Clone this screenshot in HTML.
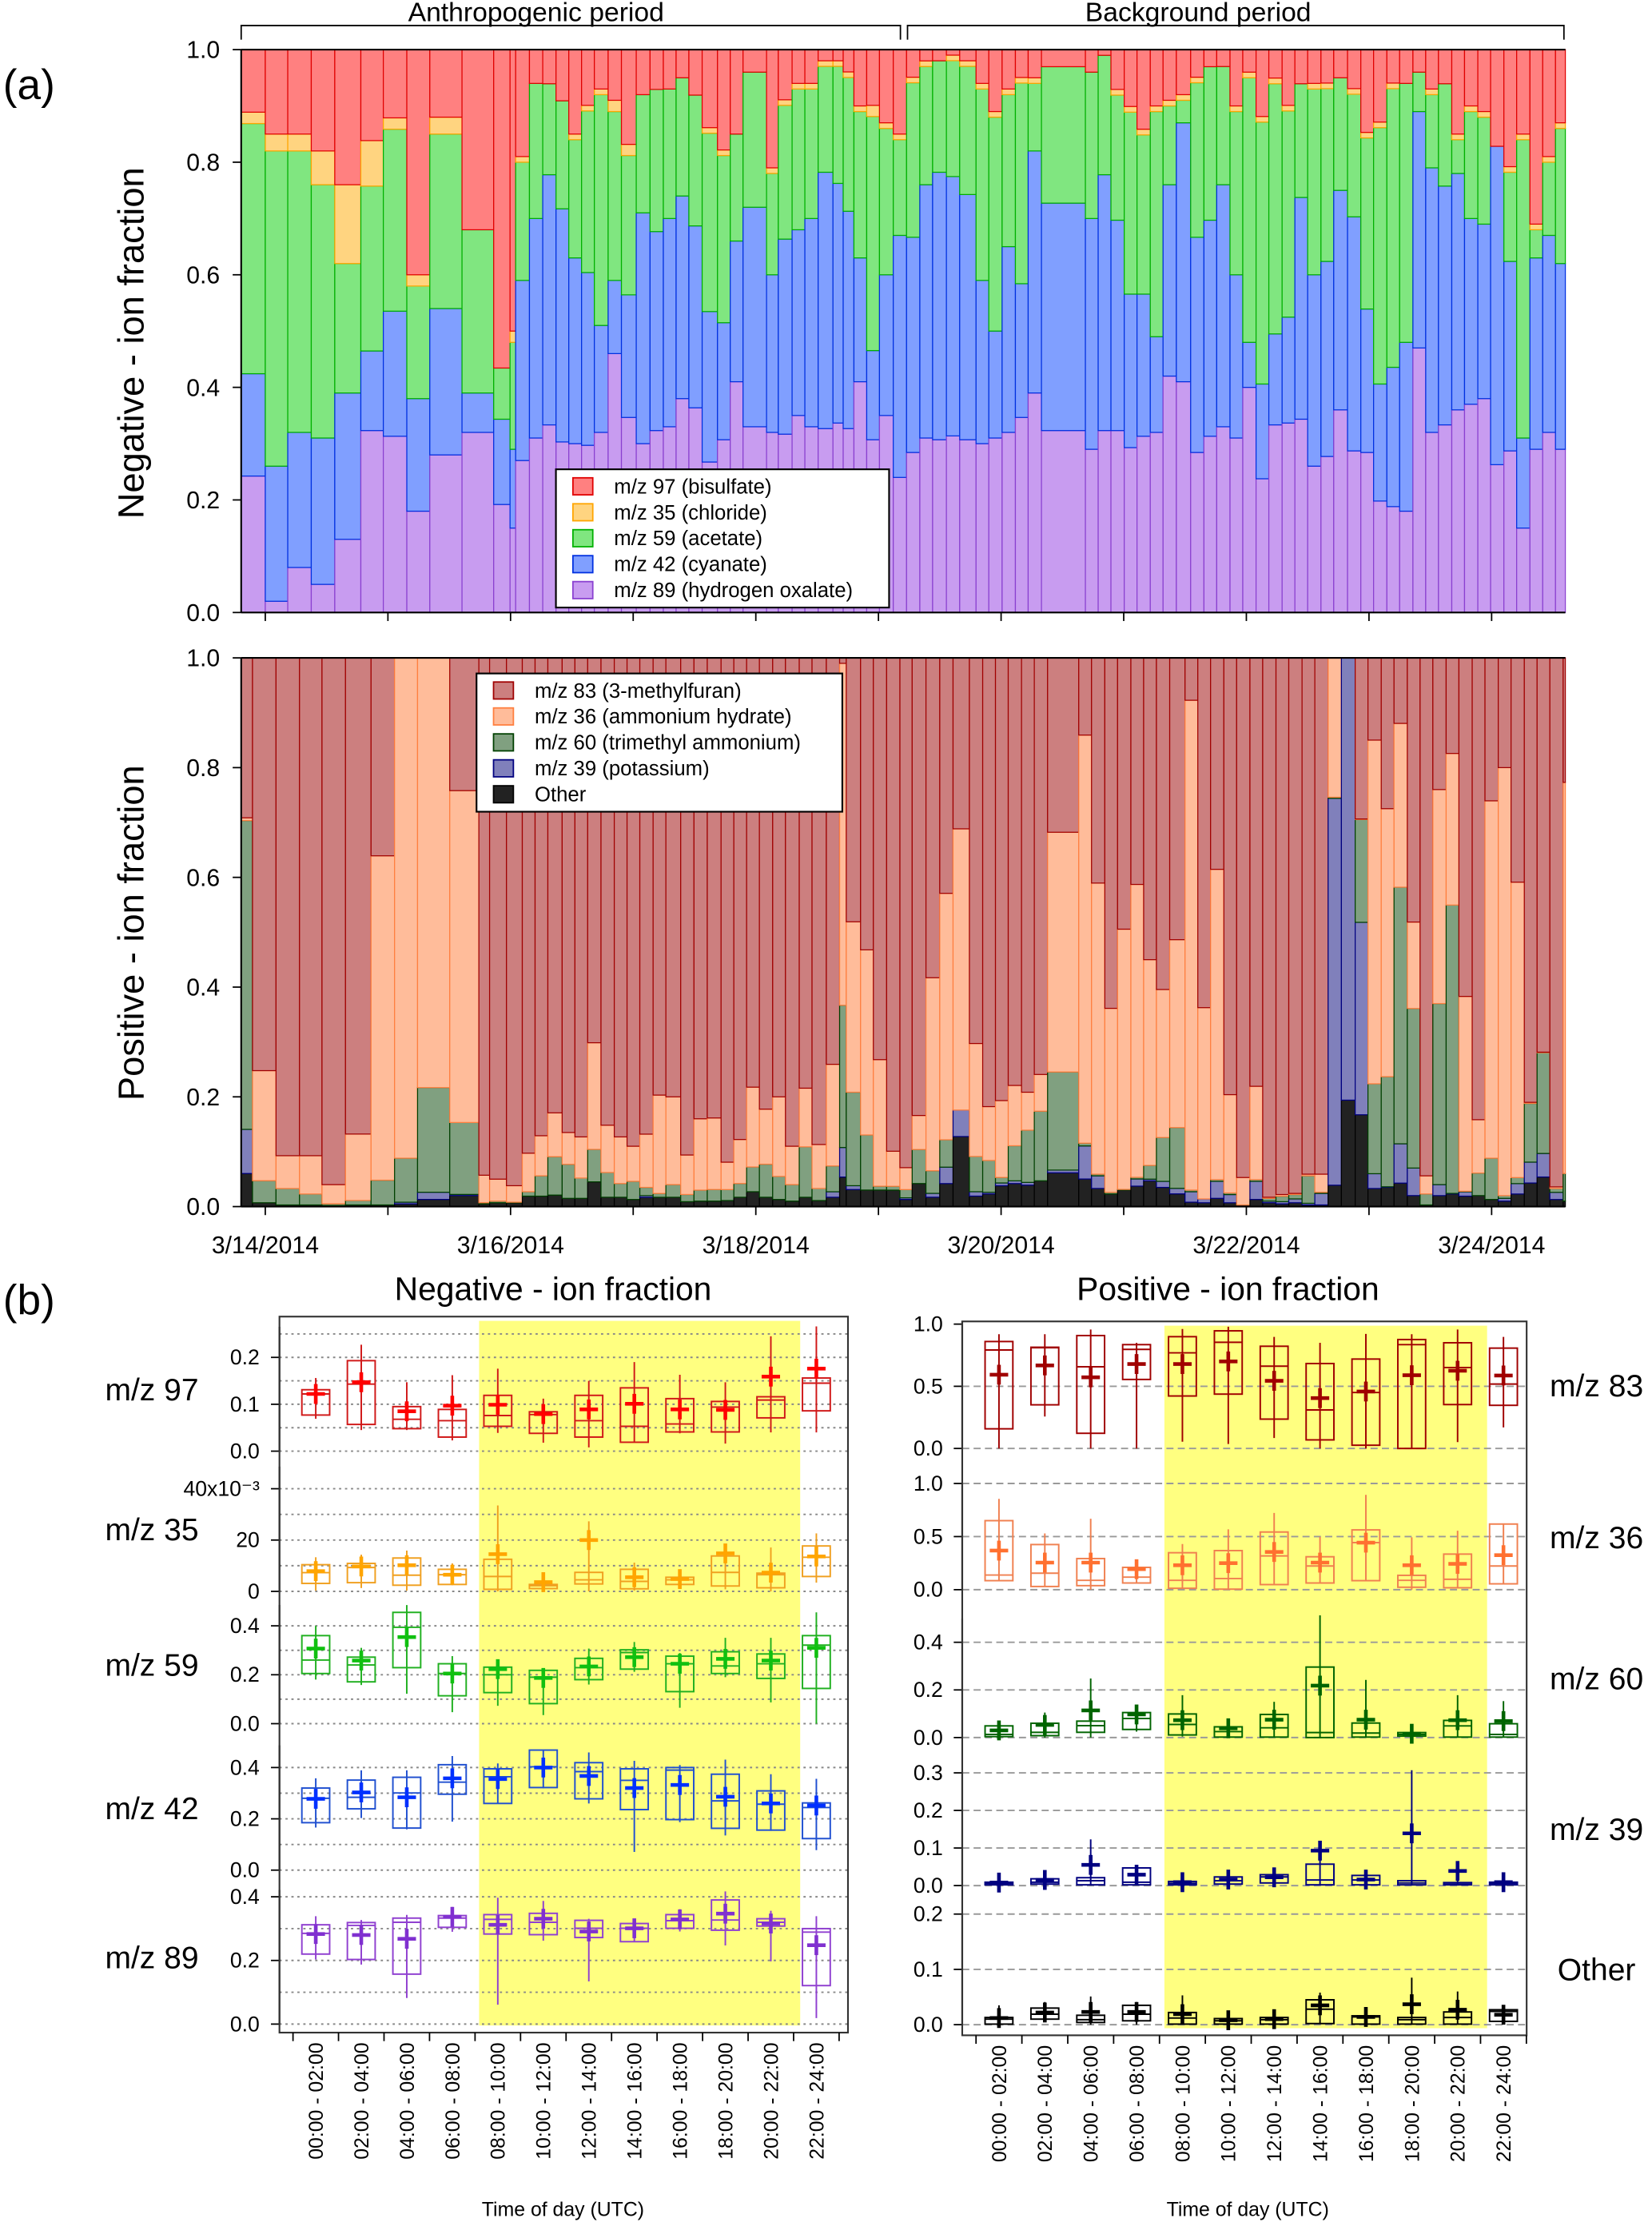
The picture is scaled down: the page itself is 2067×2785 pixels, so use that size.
<!DOCTYPE html>
<html><head><meta charset="utf-8">
<style>
html,body{margin:0;padding:0;background:#fff;}
svg{display:block;font-family:"Liberation Sans",Arial,sans-serif;}
</style></head>
<body>
<svg id="fig" xmlns="http://www.w3.org/2000/svg" width="2067" height="2785" viewBox="0 0 1165 1570">
<rect x="0" y="0" width="1165" height="1570" fill="#fff"/>
<text x="2" y="70" font-size="30">(a)</text>
<text x="2" y="927" font-size="30">(b)</text>
<g stroke="#000" stroke-width="1" fill="none">
<path d="M170,28 V18 H635 V28"/><path d="M640,28 V18 H1103 V28"/>
</g>
<text x="378" y="15" font-size="19" text-anchor="middle">Anthropogenic period</text>
<text x="845" y="15" font-size="19" text-anchor="middle">Background period</text>
<text transform="translate(101,242) rotate(-90)" font-size="25.5" text-anchor="middle">Negative - ion fraction</text>
<text transform="translate(101,658) rotate(-90)" font-size="25.5" text-anchor="middle">Positive - ion fraction</text>
<g id="gA"></g>
<g id="gB"></g>
<text x="390" y="917" font-size="23" text-anchor="middle">Negative - ion fraction</text>
<text x="866" y="917" font-size="23" text-anchor="middle">Positive - ion fraction</text>
<text x="397" y="1563" font-size="14" text-anchor="middle">Time of day (UTC)</text>
<text x="880" y="1563" font-size="14" text-anchor="middle">Time of day (UTC)</text>
</svg>
<script>
// ---------- Panel (a) data ----------
const negEdges=[-4.7,0,4.4,9.0,13.6,18.7,23.1,27.7,32.2,38.5,44.7,47.9,49.0,51.7,54.3,56.9,59.4,61.9,64.4,67.1,69.7,72.6,75.3,77.9,80.4,82.9,85.5,88.5,91.0,93.5,98.1,100.4,103.1,105.6,108.2,111.1,113.1,115.2,117.7,120.2,122.9,125.5,128.1,130.6,133.3,135.9,139.1,141.6,144.2,146.8,149.3,151.9,160.5,163.0,165.5,168.1,170.6,173.2,175.7,178.3,181.1,183.7,186.2,188.8,191.3,193.9,196.4,199.0,201.5,204.0,206.6,209.1,211.8,214.4,216.9,219.5,222.0,224.6,227.1,229.6,232.2,234.7,237.3,239.8,242.4,244.9,247.5,250.0,252.5,255.3];
const oxalate=[.24,.02,.08,.05,.13,.32,.31,.18,.28,.32,.19,.15,.27,.31,.33,.30,.30,.30,.32,.46,.35,.30,.32,.33,.38,.36,.27,.31,.41,.33,.32,.32,.35,.33,.33,.34,.33,.41,.31,.35,.24,.29,.31,.31,.32,.31,.30,.31,.32,.35,.39,.32,.29,.32,.32,.29,.31,.32,.42,.41,.29,.31,.33,.31,.40,.24,.33,.34,.34,.26,.28,.36,.29,.29,.20,.19,.18,.47,.32,.33,.36,.37,.38,.26,.29,.15,.29,.32,.29];
const cyanate=[.18,.24,.24,.26,.26,.14,.22,.20,.26,.07,.15,.14,.32,.39,.44,.41,.33,.31,.19,.13,.22,.41,.35,.37,.36,.32,.27,.21,.25,.39,.28,.35,.33,.37,.46,.43,.39,.22,.16,.25,.43,.39,.45,.48,.47,.44,.29,.19,.33,.24,.43,.40,.41,.45,.37,.27,.25,.17,.34,.46,.39,.38,.43,.29,.08,.17,.16,.19,.39,.34,.35,.39,.42,.26,.21,.25,.30,.42,.47,.42,.42,.33,.31,.56,.34,.16,.34,.35,.33];
const acetate=[.44,.56,.50,.45,.23,.29,.32,.20,.31,.29,.09,.19,.21,.24,.16,.19,.21,.29,.41,.30,.25,.21,.25,.23,.21,.23,.32,.30,.19,.24,.18,.24,.25,.23,.19,.21,.24,.26,.42,.26,.17,.28,.21,.20,.21,.23,.34,.38,.27,.36,.12,.24,.26,.21,.22,.32,.28,.40,.14,.04,.28,.27,.21,.29,.47,.47,.44,.37,.20,.33,.31,.20,.22,.31,.46,.50,.46,.07,.13,.18,.06,.19,.19,.00,.16,.53,.05,.13,.24];
const chloride=[.02,.03,.03,.06,.14,.08,.02,.02,.03,0,0,.02,.01,0,0,0,.01,.01,.01,.02,.02,0,0,0,0,0,.01,.01,0,0,.01,.01,.01,.01,.01,.01,.01,.01,.02,.01,.01,.01,.01,0,.01,.01,.01,.01,.01,.01,.01,0,0,0,.01,.01,.01,.01,.01,.01,.01,0,0,.01,.01,.01,.01,.01,0,.01,.01,0,.01,.01,.01,.01,0,0,.01,0,.01,.01,.01,0,.01,.01,.01,.01,.01];
const bisulfate=[.11,.15,.15,.18,.24,.16,.12,.40,.12,.32,.56,.50,.19,.06,.06,.09,.15,.10,.07,.09,.17,.08,.07,.07,.05,.08,.14,.18,.15,.04,.21,.09,.06,.06,.02,.02,.04,.10,.10,.13,.15,.05,.02,.02,.01,.02,.06,.11,.07,.05,.05,.03,.04,.01,.07,.10,.14,.10,.09,.08,.05,.03,.03,.10,.04,.12,.05,.10,.06,.06,.06,.05,.07,.15,.13,.06,.06,.04,.07,.06,.15,.10,.11,.17,.21,.15,.31,.19,.13];

const posEdges=[-4.7,-2.5,2.1,6.7,11.1,15.7,20.7,25.3,29.8,36.1,41.8,43.9,47.2,50.3,52.8,55.3,58.1,60.6,63.1,65.7,68.3,70.8,73.3,75.9,78.4,81.3,83.9,86.5,89.2,91.7,94.2,96.7,99.3,101.8,104.5,107.0,109.8,112.4,113.7,116.5,119.0,121.6,124.2,126.6,129.3,132.0,134.6,137.8,140.4,142.9,145.4,148.0,150.5,153.1,159.2,161.7,164.3,166.8,169.4,171.9,174.4,177.0,180.0,182.5,185.0,187.6,190.1,192.7,195.2,197.8,200.3,202.9,205.4,208.0,210.6,213.3,215.8,218.4,220.9,223.5,226.0,228.5,231.1,233.6,236.2,238.7,241.3,243.8,246.4,248.9,251.4,254.0,255.3];
const otherIon=[.06,.007,.003,.003,.002,.003,.003,.005,.013,.02,.005,.007,.007,.019,.019,.021,.015,.015,.045,.017,.017,.013,.017,.017,.017,.009,.01,.01,.011,.017,.027,.017,.013,.01,.017,.011,.017,.054,.031,.03,.03,.03,.013,.042,.017,.042,.127,.019,.023,.038,.042,.039,.047,.062,.05,.033,.023,.03,.037,.047,.035,.023,.008,.007,.015,.007,.003,.013,.007,.005,.007,.003,.003,.039,.194,.167,.033,.035,.043,.02,.003,.02,.023,.019,.02,.013,.01,.023,.043,.054,.013,.01];
const potassium=[.08,0,0,0,0,0,0,.003,.013,.002,0,0,0,0,0,0,0,0,0,0,0,0,.003,0,0,0,0,0,0,0,0,0,0,0,0,0,.01,.054,.007,0,0,0,.003,0,.007,.03,.048,.008,.003,.005,.005,.005,0,.005,.06,.023,0,0,.013,.003,.011,.01,.019,.007,.031,.015,0,.033,.003,.004,.007,.003,.021,.705,.806,.35,.027,.001,.072,.05,0,.02,.001,.008,0,0,.005,.019,.038,.043,.013,0];
const trimethyl=[.56,.04,.03,.02,.003,.008,.045,.08,.19,.13,.002,.003,.001,.008,.037,.07,.062,.037,.059,.045,.025,.033,.015,.007,.023,.013,.02,.021,.02,.025,.045,.06,.042,.03,.092,.022,.047,.26,.17,.10,.007,.007,.015,.062,.041,.05,0,.064,.058,.01,.064,.095,.127,.18,.005,.003,.003,.001,.003,.025,.08,.11,.003,0,.003,.003,0,.003,.005,.01,.008,.05,.002,.002,0,.187,.164,.20,.47,.29,.02,.33,.525,.001,.041,.075,.005,.011,.107,.184,.007,.05];
const ammonium=[.005,.20,.06,.07,.035,.12,.59,.91,.78,.60,.05,.04,.03,.07,.073,.08,.058,.075,.194,.086,.085,.064,.097,.18,.16,.072,.13,.13,.05,.08,.145,.10,.145,.07,.107,.08,.185,.625,.31,.336,.23,.064,.04,.062,.35,.45,.51,.205,.098,.14,.11,.069,.067,.44,.74,.53,.336,.47,.53,.375,.27,.34,.89,.35,.565,.18,.05,.17,.002,.003,.002,.003,.033,.254,0,.001,.627,.487,.30,.157,.033,.39,.276,.355,.097,.65,.78,.54,.002,.001,.003,.71];
const methylfuran=[.29,.75,.91,.91,.96,.86,.36,0,0,.24,.94,.95,.96,.90,.87,.83,.865,.873,.70,.85,.873,.89,.868,.80,.80,.906,.84,.836,.92,.876,.78,.82,.80,.89,.785,.886,.74,.01,.48,.53,.73,.90,.93,.834,.58,.43,.31,.70,.817,.806,.78,.79,.76,.32,.14,.41,.64,.49,.41,.55,.605,.51,.077,.64,.385,.80,.947,.78,.983,.98,.976,.94,.94,0,0,.293,.15,.274,.12,.48,.943,.24,.174,.617,.84,.26,.20,.41,.81,.72,.967,.226];

const dateTicks=[0,24,48,72,96,120,144,168,192,216,240];
const dateLabels=["3/14/2014","","3/16/2014","","3/18/2014","","3/20/2014","","3/22/2014","","3/24/2014"];
const fracTicks=[0,0.2,0.4,0.6,0.8,1.0];

// ---------- Panel (b) data ----------
const timeLabels=["00:00 - 02:00","02:00 - 04:00","04:00 - 06:00","06:00 - 08:00","08:00 - 10:00","10:00 - 12:00","12:00 - 14:00","14:00 - 16:00","16:00 - 18:00","18:00 - 20:00","20:00 - 22:00","22:00 - 24:00"];
const mz97={hi:[.131,.193,.095,.089,.119,.084,.119,.135,.112,.106,.116,.156],lo:[.077,.057,.048,.030,.053,.038,.030,.019,.041,.041,.071,.086],med:[.122,.143,.068,.065,.076,.078,.065,.053,.058,.094,.109,.145],mean:[.122,.147,.085,.097,.099,.079,.089,.101,.089,.088,.159,.176],whi:[.156,.227,.147,.162,.176,.112,.150,.190,.163,.147,.245,.266],wlo:[.069,.045,.045,.023,.039,.018,.008,.019,.038,.016,.040,.040]};
const mz35={hi:[.0104,.0109,.013,.0086,.0125,.0027,.0074,.0086,.0055,.0138,.0071,.0177],lo:[.0031,.0034,.0024,.0027,.0008,.0011,.0029,.001,.0027,.0021,.0014,.0058],med:[.0073,.0093,.0063,.0065,.0058,.0022,.0045,.0039,.0045,.0074,.0065,.0133],mean:[.0079,.0097,.0102,.0065,.0145,.0036,.020,.0055,.0048,.0148,.0073,.0136],whi:[.0133,.0143,.0159,.0109,.0335,.0065,.0273,.0112,.0078,.0174,.0171,.0226],wlo:[.0003,.0013,.0003,.0024,0,0,0,.0003,.0019,.0008,0,.0034]};
const mz59={hi:[.36,.272,.455,.245,.231,.218,.267,.302,.276,.294,.285,.36],lo:[.205,.171,.229,.114,.127,.082,.18,.223,.131,.205,.185,.144],med:[.26,.24,.394,.205,.20,.19,.229,.291,.245,.236,.245,.321],mean:[.307,.258,.354,.205,.223,.187,.234,.272,.245,.265,.258,.31],whi:[.40,.31,.485,.276,.253,.223,.307,.334,.289,.351,.351,.455],wlo:[.18,.158,.122,.047,.073,.035,.16,.212,.065,.19,.087,0]};
const mz42={hi:[.32,.351,.362,.411,.395,.468,.419,.395,.40,.374,.309,.262],lo:[.185,.239,.164,.296,.26,.322,.278,.236,.197,.163,.156,.123],med:[.28,.284,.301,.343,.364,.403,.384,.35,.39,.27,.257,.244],mean:[.278,.303,.284,.358,.355,.40,.367,.32,.332,.286,.26,.252],whi:[.358,.389,.389,.445,.416,.47,.459,.426,.41,.431,.374,.356],wlo:[.166,.203,.159,.189,.26,.319,.26,.071,.187,.135,.153,.078]};
const mz89={hi:[.312,.319,.333,.341,.344,.348,.326,.316,.344,.39,.331,.30],lo:[.22,.203,.157,.304,.283,.281,.272,.259,.301,.295,.308,.121],med:[.285,.31,.32,.333,.329,.32,.301,.301,.325,.327,.32,.289],mean:[.283,.28,.268,.337,.312,.331,.291,.301,.329,.347,.316,.248],whi:[.339,.327,.343,.368,.397,.387,.331,.329,.361,.417,.356,.339],wlo:[.203,.187,.082,.29,.061,.262,.134,.258,.291,.247,.197,.019]};
const mz83={hi:[.86,.814,.908,.835,.899,.946,.822,.683,.719,.876,.85,.807],lo:[.158,.351,.122,.555,.422,.437,.236,.069,.026,0,.353,.347],med:[.792,.81,.657,.797,.769,.854,.662,.31,.45,.835,.651,.518],mean:[.593,.668,.572,.679,.679,.70,.544,.405,.458,.589,.625,.587],whi:[.919,.919,.957,.85,.961,.979,.897,.85,.921,.919,.957,.897],wlo:[0,.257,0,0,.054,.036,.084,0,0,0,.051,.169]};
const mz36={hi:[.65,.425,.293,.21,.348,.368,.543,.31,.563,.135,.335,.618],lo:[.085,.03,.038,.063,.013,.005,.048,.063,.085,.023,.018,.055],med:[.138,.155,.088,.118,.088,.105,.318,.223,.443,.088,.098,.223],mean:[.368,.255,.255,.193,.23,.25,.355,.255,.443,.23,.243,.325],whi:[.855,.53,.668,.268,.43,.568,.723,.498,.893,.493,.555,.618],wlo:[.085,.03,0,.063,.013,.005,.048,.063,.085,0,.018,.055]};
const mz60={hi:[.049,.06,.069,.105,.099,.045,.097,.296,.061,.021,.072,.058],lo:[.004,.008,.022,.034,.011,.002,.002,0,.002,.006,.002,.002],med:[.013,.022,.05,.08,.055,.025,.041,.021,.019,.013,.049,.013],mean:[.03,.053,.114,.097,.073,.039,.075,.218,.075,.016,.073,.069],whi:[.064,.105,.248,.127,.178,.072,.15,.513,.242,.047,.178,.153],wlo:[0,0,0,.025,.004,0,0,0,0,0,0,0]};
const mz39={hi:[.009,.018,.021,.047,.011,.023,.029,.057,.027,.013,.008,.009],lo:[.002,.004,.002,.002,.002,.004,.007,.002,.002,.002,.002,.002],med:[.006,.009,.013,.009,.006,.013,.023,.015,.015,.007,.004,.006],mean:[.008,.015,.055,.029,.009,.016,.022,.093,.016,.139,.039,.009],whi:[.028,.036,.123,.054,.03,.036,.043,.113,.036,.307,.059,.03],wlo:[0,0,0,.002,0,0,0,.002,0,0,0,0]};
const mzOther={hi:[.013,.03,.017,.035,.022,.011,.013,.045,.016,.013,.023,.027],lo:[.001,.01,.004,.007,.001,.001,.001,.002,.001,.001,.001,.006],med:[.01,.019,.009,.019,.012,.007,.009,.028,.014,.009,.013,.024],mean:[.012,.022,.023,.023,.019,.008,.01,.035,.014,.037,.027,.018],whi:[.035,.041,.051,.041,.053,.022,.022,.058,.031,.085,.06,.031],wlo:[0,.005,0,0,0,0,0,.002,0,0,0,.002]};

// ---------- helpers ----------
const NS="http://www.w3.org/2000/svg";
function mk(parent,tag,attrs,txt){const e=document.createElementNS(NS,tag);for(const k in attrs)e.setAttribute(k,attrs[k]);if(txt!==undefined)e.textContent=txt;parent.appendChild(e);return e;}
const gA=document.getElementById('gA');
const gB=document.getElementById('gB');
const PX0=170,PX1=1104;
function xh(h){return 187+h*(173/48);}
function clampX(x){return Math.max(PX0,Math.min(PX1,x));}

function stackPanel(edges,series,fills,strokes,names,yBase,yH,panelName){
  const g=mk(gA,'g',{});
  
  
  const n=edges.length-1;
  for(let i=0;i<n;i++){
    let tot=0;for(const s of series)tot+=s[i];
    if(tot<=0)continue;
    const x0=clampX(xh(edges[i])),x1=clampX(xh(edges[i+1]));
    let cum=0;
    for(let k=0;k<series.length;k++){
      const v=series[k][i]/tot;
      if(v<=0){continue;}
      const yTop=yBase-(cum+v)*yH,yBot=yBase-cum*yH;
      const r=mk(g,'rect',{x:x0,y:yTop,width:Math.max(0,x1-x0),height:Math.max(0,yBot-yTop),fill:fills[k],stroke:strokes[k],'stroke-width':0.7});
      
      
      cum+=v;
    }
  }
  mk(gA,'line',{x1:PX0,y1:yBase-yH,x2:PX1,y2:yBase-yH,stroke:'#000','stroke-width':1.2});
  const ax=mk(gA,'line',{x1:PX0,y1:yBase-yH,x2:PX0,y2:yBase,stroke:'#000','stroke-width':1.2});
  
  
  mk(gA,'line',{x1:PX0,y1:yBase,x2:PX1,y2:yBase,stroke:'#000','stroke-width':1.2});
  for(const t of fracTicks){
    const y=yBase-t*yH;
    mk(gA,'line',{x1:PX0-6,y1:y,x2:PX0,y2:y,stroke:'#000','stroke-width':1});
    const tl=mk(gA,'text',{x:PX0-15,y:y+6,'font-size':17,'text-anchor':'end'},t.toFixed(1));
    
    
  }
  for(const d of dateTicks){
    const x=xh(d);
    mk(gA,'line',{x1:x,y1:yBase,x2:x,y2:yBase+6,stroke:'#000','stroke-width':1});
  }
}
stackPanel(negEdges,[oxalate,cyanate,acetate,chloride,bisulfate],
  ['#c89cf0','#809fff','#80e680','#ffd480','#ff8080'],
  ['#8a40d0','#0030e0','#00b000','#ffa500','#e00000'],
  ['oxalate','cyanate','acetate','chloride','bisulfate'],432,397,'negative-ion-stack');
stackPanel(posEdges,[otherIon,potassium,trimethyl,ammonium,methylfuran],
  ['#222222','#8080bb','#80a080','#ffbc9a','#cc7f7f'],
  ['#000000','#000080','#004000','#ff7f3f','#a00000'],
  ['other','potassium','trimethyl-ammonium','ammonium-hydrate','methylfuran'],851,387,'positive-ion-stack');
for(let i=0;i<dateTicks.length;i++){
  if(!dateLabels[i])continue;
  const t=mk(gA,'text',{x:xh(dateTicks[i]),y:884,'font-size':17,'text-anchor':'middle'},dateLabels[i]);
  
  
}
function legend(x,y,w,rows,fills,strokes,labels,name){
  const g=mk(gA,'g',{});
  
  
  mk(g,'rect',{x:x,y:y,width:w,height:rows*18.3+6,fill:'#fff',stroke:'#000','stroke-width':1.2});
  for(let i=0;i<rows;i++){
    const yy=y+12+i*18.3;
    mk(g,'rect',{x:x+12,y:yy-6,width:14,height:12,fill:fills[i],stroke:strokes[i],'stroke-width':1});
    const t=mk(g,'text',{x:x+41,y:yy+5,'font-size':14.5},labels[i]);
    
    
  }
}
legend(392,331,235,5,['#ff8080','#ffd480','#80e680','#809fff','#c89cf0'],['#e00000','#ffa500','#00b000','#0030e0','#8a40d0'],
  ['m/z 97 (bisulfate)','m/z 35 (chloride)','m/z 59 (acetate)','m/z 42 (cyanate)','m/z 89 (hydrogen oxalate)'],'negative-legend');
legend(336,475,258,5,['#cc7f7f','#ffbc9a','#80a080','#8080bb','#222222'],['#a00000','#ff7f3f','#004000','#000080','#000000'],
  ['m/z 83 (3-methylfuran)','m/z 36 (ammonium hydrate)','m/z 60 (trimethyl ammonium)','m/z 39 (potassium)','Other'],'positive-legend');

// ---------- Panel (b) ----------
function boxSide(cfg){
  const {x0,x1,cx0,dx,top,bottom,yl0,yl1,panels,labelX,labelAnchor,tickX,name}=cfg;
  const g=mk(gB,'g',{});
  
  
  const hl=mk(g,'rect',{x:yl0,y:top+3,width:yl1-yl0,height:bottom-top-8,fill:'#ffff80'});
  
  
  for(const p of panels){
    const yv=v=>p.y0-v*p.ppu;
    for(const gv of p.grid){
      mk(g,'line',{x1:x0,y1:yv(gv),x2:x1,y2:yv(gv),stroke:p.gridColor,'stroke-width':1.1,'stroke-dasharray':p.dash});
    }
    const ax=mk(g,'line',{x1:x0,y1:p.top,x2:x0,y2:p.y0,stroke:'#000','stroke-width':1.2});
    
    
    for(let i=0;i<p.ticks.length;i++){
      const y=yv(p.ticks[i]);
      mk(g,'line',{x1:x0-6,y1:y,x2:x0,y2:y,stroke:'#000','stroke-width':1});
      const t=mk(g,'text',{x:tickX,y:y+5,'font-size':15,'text-anchor':'end'},p.tickLabels[i]);
      
      
    }
    const lab=mk(g,'text',{x:labelX,y:(p.y0+p.top)/2+8,'font-size':22,'text-anchor':labelAnchor},p.label);
    
    
    const d=p.data;
    for(let i=0;i<12;i++){
      const cx=cx0+i*dx,hw=9.8;
      const bg=mk(g,'g',{});
      
      
      mk(bg,'line',{x1:cx,y1:yv(d.whi[i]),x2:cx,y2:yv(d.wlo[i]),stroke:p.color,'stroke-width':1.1});
      mk(bg,'rect',{x:cx-hw,y:yv(d.hi[i]),width:2*hw,height:Math.max(0.5,yv(d.lo[i])-yv(d.hi[i])),fill:'none',stroke:p.color,'stroke-width':1.1});
      mk(bg,'line',{x1:cx-hw,y1:yv(d.med[i]),x2:cx+hw,y2:yv(d.med[i]),stroke:p.color,'stroke-width':1.1});
      const my=yv(d.mean[i]);
      mk(bg,'line',{x1:cx-6.5,y1:my,x2:cx+6.5,y2:my,stroke:p.mcolor,'stroke-width':2.6});
      mk(bg,'line',{x1:cx,y1:my-7,x2:cx,y2:my+7,stroke:p.mcolor,'stroke-width':2.6});
    }
  }
  mk(g,'rect',{x:x0,y:top,width:x1-x0,height:bottom-top,fill:'none',stroke:'#333','stroke-width':1.2});
  for(let k=0;k<=12;k++){
    const x=cx0+(k-0.5)*dx;
    mk(g,'line',{x1:x,y1:bottom,x2:x,y2:bottom+6,stroke:'#000','stroke-width':1});
  }
  for(let i=0;i<12;i++){
    const cx=cx0+i*dx;
    const t=mk(g,'text',{transform:'translate('+(cx+5)+','+(bottom+7)+') rotate(-90)','font-size':14,'text-anchor':'end'},timeLabels[i]);
    
    
  }
}
const dotDash='1.6,2.6', lineDash='5,3';
boxSide({x0:197,x1:598,cx0:222.6,dx:32.1,top:928.6,bottom:1433.6,yl0:337.8,yl1:564.3,tickX:183,labelX:107,labelAnchor:'middle',name:'negative-box-panel',
 panels:[
  {id:'mz97',label:'m/z 97',data:mz97,y0:1023.5,ppu:330.7,top:935.8,ticks:[0,.1,.2],tickLabels:['0.0','0.1','0.2'],grid:[0,.05,.1,.15,.2,.25],color:'#d01818',mcolor:'#ff0000',gridColor:'#888',dash:dotDash},
  {id:'mz35',label:'m/z 35',data:mz35,y0:1122.4,ppu:1810,top:1034.4,ticks:[0,.02,.04],tickLabels:['0','20','40x10\u207B\u00B3'],grid:[0,.01,.02,.03,.04],color:'#f0a020',mcolor:'#ffa500',gridColor:'#888',dash:dotDash},
  {id:'mz59',label:'m/z 59',data:mz59,y0:1215.7,ppu:172.5,top:1132,ticks:[0,.2,.4],tickLabels:['0.0','0.2','0.4'],grid:[0,.1,.2,.3,.4],color:'#20b020',mcolor:'#10c010',gridColor:'#888',dash:dotDash},
  {id:'mz42',label:'m/z 42',data:mz42,y0:1319,ppu:180.9,top:1231,ticks:[0,.2,.4],tickLabels:['0.0','0.2','0.4'],grid:[0,.1,.2,.3,.4],color:'#2050d0',mcolor:'#0030ff',gridColor:'#888',dash:dotDash},
  {id:'mz89',label:'m/z 89',data:mz89,y0:1427.6,ppu:224.5,top:1333,ticks:[0,.2,.4],tickLabels:['0.0','0.2','0.4'],grid:[0,.1,.2,.3,.4],color:'#9040d0',mcolor:'#8030d0',gridColor:'#888',dash:dotDash}
 ]});
boxSide({x0:678.6,x1:1076.7,cx0:704.5,dx:32.35,top:932,bottom:1435.5,yl0:821.2,yl1:1048.8,tickX:665,labelX:1126,labelAnchor:'middle',name:'positive-box-panel',
 panels:[
  {id:'mz83',label:'m/z 83',data:mz83,y0:1021.6,ppu:87.7,top:932,ticks:[0,.5,1],tickLabels:['0.0','0.5','1.0'],grid:[0,.5],color:'#a00000',mcolor:'#a00000',gridColor:'#999',dash:lineDash},
  {id:'mz36',label:'m/z 36',data:mz36,y0:1121.2,ppu:74.9,top:1046.6,ticks:[0,.5,1],tickLabels:['0.0','0.5','1.0'],grid:[0,.5,1],color:'#f08050',mcolor:'#ff7030',gridColor:'#999',dash:lineDash},
  {id:'mz60',label:'m/z 60',data:mz60,y0:1225.5,ppu:168,top:1141.5,ticks:[0,.2,.4],tickLabels:['0.0','0.2','0.4'],grid:[0,.2,.4],color:'#006400',mcolor:'#006400',gridColor:'#999',dash:lineDash},
  {id:'mz39',label:'m/z 39',data:mz39,y0:1329.9,ppu:265,top:1249.5,ticks:[0,.1,.2,.3],tickLabels:['0.0','0.1','0.2','0.3'],grid:[0,.1,.2,.3],color:'#000080',mcolor:'#000080',gridColor:'#999',dash:lineDash},
  {id:'other',label:'Other',data:mzOther,y0:1428,ppu:390,top:1349.5,ticks:[0,.1,.2],tickLabels:['0.0','0.1','0.2'],grid:[0,.1,.2],color:'#000000',mcolor:'#000000',gridColor:'#999',dash:lineDash}
 ]});
</script>
</body></html>
